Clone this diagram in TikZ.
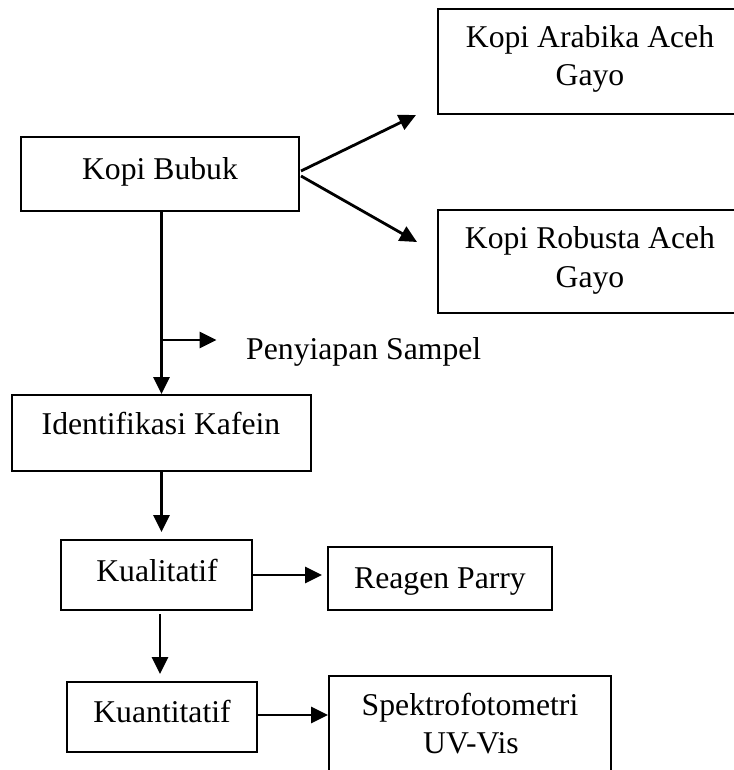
\documentclass[tikz,border=0pt]{standalone}
\usepackage{fontspec}
\setmainfont{Liberation Serif}
\usetikzlibrary{arrows.meta,calc}
\begin{document}
\begin{tikzpicture}[x=1pt,y=-1pt,
  box/.style={draw, line width=2pt, inner sep=0pt, minimum width=#1},
  txt/.style={anchor=base, inner sep=0pt, font=\fontsize{31.7pt}{38pt}\selectfont},
  arr/.style={line width=2.8pt, -{Triangle[length=17pt,width=16pt]}}]
\useasboundingbox (0,0) rectangle (733,770);
% boxes
\node[box=278, minimum height=74] (bubuk) at (160,174) {};
\node[box=304, minimum height=105] (arabika) at (590,61.5) {};
\node[box=304, minimum height=103] (robusta) at (590,261.5) {};
\node[box=299, minimum height=76] (ident) at (161.5,433) {};
\node[box=191, minimum height=70] (kual) at (156.5,575) {};
\node[box=224, minimum height=63] (reagen) at (440,578.5) {};
\node[box=190, minimum height=70] (kuan) at (162,717) {};
\node[box=282, minimum height=104] (spektro) at (470,728) {};
% texts
\node[txt] (bubukT) at (160,179) {Kopi Bubuk};
\node[txt] (arabikaT1) at (590,48) {Kopi Arabika Aceh};
\node[txt] (arabikaT2) at (590,86) {Gayo};
\node[txt] (robustaT1) at (590,248) {Kopi Robusta Aceh};
\node[txt] (robustaT2) at (590,287) {Gayo};
\node[txt, anchor=base west] (penyT) at (246,359) {Penyiapan Sampel};
\node[txt] (identT) at (161,434) {Identifikasi Kafein};
\node[txt] (kualT) at (157,581) {Kualitatif};
\node[txt] (reagenT) at (440,588) {Reagen Parry};
\node[txt] (kuanT) at (162,722) {Kuantitatif};
\node[txt] (spektroT1) at (470,715) {Spektrofotometri};
\node[txt] (spektroT2) at (471,753) {UV-Vis};
% connector endpoints
\coordinate (aTip) at ($(arabika.south west)+(-21,0)$);
\coordinate (rTip) at ($(robusta.north west)+(-20,33)$);
\coordinate (br) at ($(ident.north)+(0,-54)$);
\coordinate (brTip) at ($(br)+(55,0)$);
% connectors
\draw[arr] ($(bubuk.east)+(1,-3)$) -- (aTip);
\draw[arr] ($(bubuk.east)+(1,2)$) -- (rTip);
\draw[arr] (ident.north |- bubuk.south) -- (ident.north);
\draw[arr, shorten <=1.4pt] (br) -- (brTip);
\draw[arr, shorten >=7pt] (ident.south) -- (ident.south |- kual.north);
\draw[arr] ($(kual.south)+(3.5,3)$) -- ($(kuan.north)+(-2,-7)$);
\draw[arr, shorten >=5pt] (kual.east) -- (kual.east -| reagen.west);
\draw[arr] ($(kuan.east)+(0,-2)$) -- ($(kuan.east -| spektro.west)+(0,-2)$);
\end{tikzpicture}
\end{document}
